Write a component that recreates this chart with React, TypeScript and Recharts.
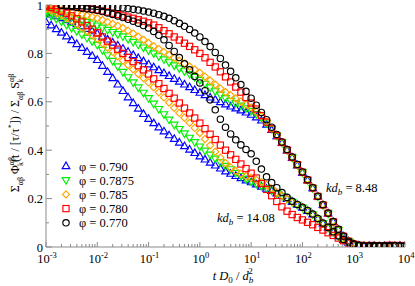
import React from 'react';
import { ScatterChart, Scatter, XAxis, YAxis } from 'recharts';

// log10 of the time t D0 / d_b^2 at which each value is read
const LOG_T = [
  -3.0, -2.9, -2.8, -2.7, -2.6, -2.5, -2.4, -2.3, -2.2, -2.1,
  -2.0, -1.9, -1.8, -1.7, -1.6, -1.5, -1.4, -1.3, -1.2, -1.1,
  -1.0, -0.9, -0.8, -0.7, -0.6, -0.5, -0.4, -0.3, -0.2, -0.1,
  0.0, 0.1, 0.2, 0.3, 0.4, 0.5, 0.6, 0.7, 0.8, 0.9,
  1.0, 1.1, 1.2, 1.3, 1.4, 1.5, 1.6, 1.7, 1.8, 1.9,
  2.0, 2.1, 2.2, 2.3, 2.4, 2.5, 2.6, 2.7, 2.8, 2.9,
  3.0, 3.1, 3.2, 3.3, 3.4, 3.5, 3.6, 3.7, 3.8, 3.9,
  4.0,
];

// phi = 0.790, kd_b = 14.08 and 8.48
const BLUE_K14 = [
  0.930, 0.916, 0.901, 0.886, 0.871, 0.855, 0.839, 0.823, 0.807, 0.790,
  0.773, 0.749, 0.724, 0.698, 0.672, 0.645, 0.619, 0.595, 0.572, 0.550,
  0.530, 0.512, 0.495, 0.478, 0.462, 0.447, 0.432, 0.417, 0.403, 0.389,
  0.375, 0.362, 0.349, 0.337, 0.325, 0.313, 0.303, 0.294, 0.285, 0.276,
  0.268, 0.259, 0.250, 0.241, 0.232, 0.222, 0.211, 0.199, 0.187, 0.175,
  0.163, 0.150, 0.135, 0.117, 0.098, 0.080, 0.062, 0.045, 0.030, 0.018,
  0.010, 0.006, 0.004, 0.005, 0.003, 0.004, 0.005, 0.004, 0.003, 0.005,
  0.004,
];
const BLUE_K8 = [
  0.968, 0.961, 0.954, 0.946, 0.938, 0.930, 0.921, 0.912, 0.902, 0.892,
  0.882, 0.870, 0.858, 0.845, 0.833, 0.820, 0.807, 0.794, 0.781, 0.768,
  0.755, 0.743, 0.731, 0.719, 0.707, 0.695, 0.684, 0.672, 0.661, 0.649,
  0.638, 0.628, 0.618, 0.609, 0.599, 0.590, 0.581, 0.573, 0.565, 0.556,
  0.547, 0.536, 0.523, 0.506, 0.484, 0.458, 0.430, 0.400, 0.369, 0.338,
  0.307, 0.276, 0.243, 0.209, 0.174, 0.139, 0.104, 0.072, 0.044, 0.024,
  0.012, 0.006, 0.005, 0.003, 0.005, 0.004, 0.003, 0.006, 0.004, 0.005,
  0.003,
];

// phi = 0.7875
const GREEN_K14 = [
  0.965, 0.954, 0.943, 0.931, 0.918, 0.905, 0.892, 0.878, 0.864, 0.850,
  0.835, 0.814, 0.792, 0.769, 0.746, 0.723, 0.701, 0.680, 0.659, 0.637,
  0.615, 0.592, 0.570, 0.548, 0.526, 0.505, 0.487, 0.469, 0.451, 0.433,
  0.415, 0.398, 0.381, 0.365, 0.350, 0.335, 0.321, 0.306, 0.293, 0.281,
  0.270, 0.261, 0.252, 0.243, 0.233, 0.222, 0.210, 0.198, 0.186, 0.174,
  0.162, 0.149, 0.134, 0.116, 0.097, 0.079, 0.061, 0.044, 0.029, 0.017,
  0.010, 0.005, 0.004, 0.003, 0.005, 0.004, 0.006, 0.003, 0.004, 0.005,
  0.003,
];
const GREEN_K8 = [
  0.975, 0.971, 0.966, 0.961, 0.956, 0.950, 0.944, 0.937, 0.930, 0.923,
  0.915, 0.906, 0.897, 0.888, 0.879, 0.870, 0.859, 0.847, 0.836, 0.824,
  0.812, 0.800, 0.788, 0.775, 0.763, 0.750, 0.738, 0.726, 0.714, 0.702,
  0.690, 0.674, 0.659, 0.643, 0.629, 0.615, 0.604, 0.594, 0.584, 0.573,
  0.562, 0.549, 0.533, 0.513, 0.488, 0.460, 0.431, 0.400, 0.369, 0.339,
  0.308, 0.276, 0.243, 0.208, 0.173, 0.138, 0.103, 0.071, 0.043, 0.023,
  0.011, 0.006, 0.004, 0.005, 0.003, 0.005, 0.006, 0.004, 0.005, 0.003,
  0.004,
];

// phi = 0.785
const ORANGE_K14 = [
  0.985, 0.977, 0.968, 0.958, 0.947, 0.935, 0.921, 0.907, 0.892, 0.876,
  0.860, 0.842, 0.824, 0.806, 0.788, 0.770, 0.752, 0.734, 0.716, 0.698,
  0.680, 0.660, 0.639, 0.618, 0.597, 0.575, 0.554, 0.534, 0.513, 0.492,
  0.471, 0.446, 0.420, 0.394, 0.369, 0.347, 0.329, 0.314, 0.302, 0.293,
  0.285, 0.277, 0.268, 0.257, 0.242, 0.226, 0.211, 0.198, 0.186, 0.175,
  0.164, 0.151, 0.136, 0.118, 0.099, 0.081, 0.063, 0.046, 0.031, 0.019,
  0.011, 0.006, 0.004, 0.005, 0.006, 0.004, 0.005, 0.003, 0.005, 0.006,
  0.004,
];
const ORANGE_K8 = [
  0.985, 0.983, 0.980, 0.978, 0.974, 0.970, 0.966, 0.961, 0.956, 0.951,
  0.945, 0.938, 0.930, 0.922, 0.914, 0.905, 0.894, 0.882, 0.869, 0.856,
  0.843, 0.830, 0.818, 0.806, 0.794, 0.782, 0.770, 0.758, 0.746, 0.733,
  0.720, 0.704, 0.688, 0.671, 0.655, 0.640, 0.627, 0.614, 0.601, 0.589,
  0.576, 0.560, 0.541, 0.518, 0.492, 0.463, 0.433, 0.402, 0.371, 0.340,
  0.310, 0.279, 0.246, 0.211, 0.176, 0.141, 0.106, 0.074, 0.046, 0.025,
  0.013, 0.007, 0.006, 0.004, 0.005, 0.007, 0.004, 0.005, 0.006, 0.004,
  0.006,
];

// phi = 0.780
const RED_K14 = [
  0.995, 0.990, 0.983, 0.975, 0.966, 0.955, 0.943, 0.930, 0.915, 0.900,
  0.885, 0.868, 0.851, 0.834, 0.817, 0.800, 0.783, 0.766, 0.749, 0.732,
  0.715, 0.695, 0.675, 0.655, 0.635, 0.615, 0.595, 0.574, 0.554, 0.533,
  0.512, 0.489, 0.466, 0.444, 0.421, 0.400, 0.381, 0.362, 0.343, 0.324,
  0.305, 0.285, 0.262, 0.238, 0.212, 0.188, 0.166, 0.148, 0.134, 0.122,
  0.112, 0.102, 0.092, 0.081, 0.070, 0.059, 0.048, 0.037, 0.026, 0.016,
  0.009, 0.006, 0.004, 0.006, 0.004, 0.003, 0.005, 0.004, 0.006, 0.005,
  0.004,
];
const RED_K8 = [
  1.000, 0.999, 0.998, 0.997, 0.996, 0.995, 0.993, 0.990, 0.987, 0.984,
  0.980, 0.976, 0.971, 0.966, 0.961, 0.955, 0.950, 0.945, 0.939, 0.933,
  0.926, 0.917, 0.906, 0.894, 0.881, 0.868, 0.855, 0.842, 0.829, 0.815,
  0.800, 0.782, 0.763, 0.744, 0.724, 0.703, 0.682, 0.661, 0.640, 0.618,
  0.595, 0.570, 0.543, 0.516, 0.488, 0.460, 0.432, 0.401, 0.370, 0.340,
  0.309, 0.277, 0.244, 0.209, 0.174, 0.139, 0.104, 0.072, 0.044, 0.024,
  0.012, 0.007, 0.005, 0.004, 0.006, 0.003, 0.005, 0.007, 0.004, 0.006,
  0.005,
];

// phi = 0.770 (first three times not sampled)
const BLACK_K14 = [
  null, null, null, 0.998, 0.996, 0.993, 0.990, 0.987, 0.984, 0.981,
  0.978, 0.973, 0.967, 0.961, 0.955, 0.948, 0.941, 0.933, 0.925, 0.915,
  0.905, 0.891, 0.875, 0.856, 0.833, 0.808, 0.783, 0.757, 0.732, 0.705,
  0.678, 0.646, 0.608, 0.567, 0.528, 0.495, 0.467, 0.443, 0.422, 0.403,
  0.385, 0.354, 0.322, 0.290, 0.266, 0.245, 0.225, 0.205, 0.189, 0.176,
  0.164, 0.151, 0.136, 0.118, 0.099, 0.081, 0.063, 0.046, 0.031, 0.019,
  0.011, 0.007, 0.005, 0.004, 0.006, 0.005, 0.003, 0.005, 0.006, 0.004,
  0.005,
];
const BLACK_K8 = [
  null, null, null, 1.000, 0.999, 0.998, 0.998, 0.997, 0.996, 0.996,
  0.995, 0.994, 0.993, 0.991, 0.990, 0.988, 0.985, 0.982, 0.979, 0.975,
  0.971, 0.966, 0.960, 0.953, 0.945, 0.935, 0.924, 0.912, 0.899, 0.884,
  0.868, 0.849, 0.828, 0.804, 0.779, 0.752, 0.726, 0.699, 0.671, 0.643,
  0.615, 0.586, 0.556, 0.526, 0.495, 0.465, 0.434, 0.403, 0.372, 0.341,
  0.310, 0.278, 0.245, 0.210, 0.175, 0.140, 0.105, 0.073, 0.045, 0.024,
  0.012, 0.006, 0.004, 0.005, 0.003, 0.004, 0.006, 0.003, 0.005, 0.004,
  0.003,
];

const PHI_LABELS = ['φ = 0.790', 'φ = 0.7875', 'φ = 0.785', 'φ = 0.780', 'φ = 0.770'];
const KD_LABELS = ['14.08', '8.48'];

const X_DECADES = [-3, -2, -1, 0, 1, 2, 3, 4];
const Y_TICKS = [0, 0.1, 0.2, 0.3, 0.4, 0.5, 0.6, 0.7, 0.8, 0.9, 1];

const X_TICKS: number[] = [];
X_DECADES.forEach((n) => {
  const maxK = n === 4 ? 1 : 9;
  for (let k = 1; k <= maxK; k++) X_TICKS.push(Number((k * Math.pow(10, n)).toPrecision(4)));
});

const FONT = 'Liberation Serif';
const TXT = { fontFamily: FONT };
const AXIS = '#8a8a8a';

type Kind = 'up' | 'down' | 'diamond' | 'square' | 'circle';

function marker(kind: Kind, cx: number, cy: number, color: string) {
  const common = { fill: 'none', stroke: color, strokeWidth: 1.15 };
  switch (kind) {
    case 'up':
      return <path d={`M${cx},${cy - 4}L${cx + 3.8},${cy + 2.6}L${cx - 3.8},${cy + 2.6}Z`} {...common} />;
    case 'down':
      return <path d={`M${cx},${cy + 4}L${cx + 3.8},${cy - 2.6}L${cx - 3.8},${cy - 2.6}Z`} {...common} />;
    case 'diamond':
      return <path d={`M${cx},${cy - 3.6}L${cx + 3.6},${cy}L${cx},${cy + 3.6}L${cx - 3.6},${cy}Z`} {...common} />;
    case 'square':
      return <rect x={cx - 3.1} y={cy - 3.1} width={6.2} height={6.2} {...common} />;
    default:
      return <circle cx={cx} cy={cy} r={3.2} {...common} />;
  }
}

const SERIES: { label: string; kind: Kind; color: string; curves: (number | null)[][] }[] = [
  { label: PHI_LABELS[0], kind: 'up', color: '#0000ff', curves: [BLUE_K14, BLUE_K8] },
  { label: PHI_LABELS[1], kind: 'down', color: '#00f000', curves: [GREEN_K14, GREEN_K8] },
  { label: PHI_LABELS[2], kind: 'diamond', color: '#ffa500', curves: [ORANGE_K14, ORANGE_K8] },
  { label: PHI_LABELS[3], kind: 'square', color: '#ff0000', curves: [RED_K14, RED_K8] },
  { label: PHI_LABELS[4], kind: 'circle', color: '#000000', curves: [BLACK_K14, BLACK_K8] },
];

function build(vals: (number | null)[]) {
  const out: { t: number; v: number }[] = [];
  LOG_T.forEach((L, i) => {
    const v = vals[i];
    if (v !== null && v !== undefined) out.push({ t: Math.pow(10, L), v });
  });
  return out;
}

const isMajorX = (v: number) => {
  const lg = Math.log10(v);
  return Math.abs(lg - Math.round(lg)) < 1e-6;
};
const isMajorY = (v: number) => Math.round(v * 10) % 2 === 0;

const BottomTick = (props: any) => {
  const { x, y, payload } = props;
  const v = payload.value;
  const major = isMajorX(v);
  return (
    <g>
      <line x1={x} x2={x} y1={y} y2={y - (major ? 5 : 3)} stroke={AXIS} strokeWidth={1} />
      {major && (
        <text x={x + 1} y={y + 16} textAnchor="middle" style={TXT} fontSize={12.5} fill="#000">
          10
          <tspan dy={-5} fontSize={8.5}>
            {String(Math.round(Math.log10(v)))}
          </tspan>
        </text>
      )}
    </g>
  );
};

const TopTick = (props: any) => {
  const { x, y, payload } = props;
  const major = isMajorX(payload.value);
  return <line x1={x} x2={x} y1={y} y2={y + (major ? 5 : 3)} stroke={AXIS} strokeWidth={1} />;
};

const LeftTick = (props: any) => {
  const { x, y, payload } = props;
  const v = payload.value;
  const major = isMajorY(v);
  const label = v === 0 ? '0' : v === 1 ? '1' : v.toFixed(1);
  return (
    <g>
      <line x1={x} x2={x + (major ? 6 : 3)} y1={y} y2={y} stroke={AXIS} strokeWidth={1} />
      {major && (
        <text x={x - 3} y={y + 4.5} textAnchor="end" style={TXT} fontSize={12.5} fill="#000">
          {label}
        </text>
      )}
    </g>
  );
};

const RightTick = (props: any) => {
  const { x, y, payload } = props;
  const major = isMajorY(payload.value);
  return <line x1={x} x2={x - (major ? 6 : 3)} y1={y} y2={y} stroke={AXIS} strokeWidth={1} />;
};

export default function App() {
  return (
    <div
      style={{
        position: 'absolute',
        left: 0,
        top: 0,
        width: 415,
        height: 286,
        background: '#fff',
        fontFamily: FONT,
      }}
    >
      <ScatterChart width={415} height={286} margin={{ top: 5, right: 10, bottom: 0, left: 0 }}>
        <XAxis
          dataKey="t"
          type="number"
          scale="log"
          domain={[0.001, 10000]}
          allowDataOverflow
          ticks={X_TICKS}
          interval={0}
          tick={(p: any) => <BottomTick {...p} />}
          tickLine={false}
          tickSize={0}
          tickMargin={0}
          axisLine={{ stroke: AXIS }}
          height={39}
        />
        <XAxis
          xAxisId="top"
          orientation="top"
          dataKey="t"
          type="number"
          scale="log"
          domain={[0.001, 10000]}
          allowDataOverflow
          ticks={X_TICKS}
          interval={0}
          tick={(p: any) => <TopTick {...p} />}
          tickLine={false}
          tickSize={0}
          tickMargin={0}
          axisLine={{ stroke: AXIS }}
          height={0}
        />
        <YAxis
          dataKey="v"
          type="number"
          domain={[0, 1]}
          allowDataOverflow
          ticks={Y_TICKS}
          interval={0}
          tick={(p: any) => <LeftTick {...p} />}
          tickLine={false}
          tickSize={0}
          tickMargin={0}
          axisLine={{ stroke: AXIS }}
          width={46}
        />
        <YAxis
          yAxisId="right"
          orientation="right"
          dataKey="v"
          type="number"
          domain={[0, 1]}
          allowDataOverflow
          ticks={Y_TICKS}
          interval={0}
          tick={(p: any) => <RightTick {...p} />}
          tickLine={false}
          tickSize={0}
          tickMargin={0}
          axisLine={{ stroke: AXIS }}
          width={0}
        />
        {SERIES.flatMap((s) =>
          s.curves.map((c, ci) => (
            <Scatter
              key={s.label + ci}
              name={s.label + ' kd ' + KD_LABELS[ci]}
              data={build(c)}
              isAnimationActive={false}
              shape={(p: any) => marker(s.kind, p.cx, p.cy, s.color)}
            />
          ))
        )}
      </ScatterChart>
      <svg
        width={415}
        height={286}
        style={{ position: 'absolute', left: 0, top: 0, pointerEvents: 'none' }}
      >
        {/* legend */}
        {SERIES.map((s, i) => (
          <g key={s.label}>
            {marker(s.kind, 66, 166 + i * 14.2, s.color)}
            <text x={79} y={170.5 + i * 14.2} style={TXT} fontSize={12.5} fill="#000">
              {s.label}
            </text>
          </g>
        ))}
        {/* annotations */}
        <text x={326} y={192} style={TXT} fontSize={12.5} fill="#000">
          <tspan fontStyle="italic">kd</tspan>
          <tspan fontStyle="italic" fontSize={9} dy={3}>b</tspan>
          <tspan dy={-3}>{' = ' + KD_LABELS[1]}</tspan>
        </text>
        <text x={217} y={222} style={TXT} fontSize={12.5} fill="#000">
          <tspan fontStyle="italic">kd</tspan>
          <tspan fontStyle="italic" fontSize={9} dy={3}>b</tspan>
          <tspan dy={-3}>{' = ' + KD_LABELS[0]}</tspan>
        </text>
        {/* x title */}
        <text x={233} y={280} textAnchor="middle" style={TXT} fontSize={12.5} fill="#000">
          <tspan fontStyle="italic">t D</tspan>
          <tspan fontSize={9} dy={3}>0</tspan>
          <tspan dy={-3}> / </tspan>
          <tspan fontStyle="italic">d</tspan>
          <tspan fontSize={9} fontStyle="italic" dy={3}>b</tspan>
          <tspan fontSize={9} dx={-5} dy={-9}>2</tspan>
        </text>
        {/* y title */}
        <text transform="rotate(-90)" x={-133} y={19} textAnchor="middle" style={TXT} fontSize={12} fill="#000">
          Σ
          <tspan fontSize={8} dy={4}>αβ</tspan>
          <tspan dy={-4}> Φ</tspan>
          <tspan fontSize={8} dy={-5}>αβ</tspan>
          <tspan fontSize={8} dx={-9} dy={9}>k</tspan>
          <tspan dy={-4}>(t / [τ/τ</tspan>
          <tspan fontSize={8} dy={-5}>*</tspan>
          <tspan dy={5}>]) / Σ</tspan>
          <tspan fontSize={8} dy={4}>αβ</tspan>
          <tspan dy={-4}> S</tspan>
          <tspan fontSize={8} dy={-5}>αβ</tspan>
          <tspan fontSize={8} dx={-9} dy={9}>k</tspan>
        </text>
      </svg>
    </div>
  );
}
